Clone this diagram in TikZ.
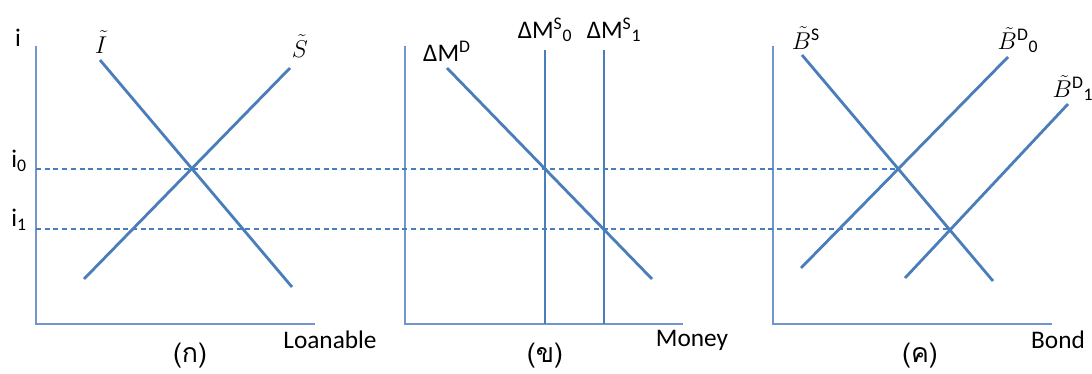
\documentclass[tikz,border=0pt]{standalone}
\usepackage{fontspec}
\setmainfont{Carlito}
\newfontfamily\thaifont[Script=Thai]{Loma}
\definecolor{curveblue}{HTML}{4A7EBB}
\definecolor{axisblue}{HTML}{7096CE}
\begin{document}
\begin{tikzpicture}[x=0.025cm,y=-0.025cm,
  curve/.style={curveblue,line width=2pt},
  axis/.style={axisblue,line width=1.3pt},
  guide/.style={curveblue,line width=0.9pt,dash pattern=on 3.6pt off 2.6pt},
  lbl/.style={font=\fontsize{18}{20}\selectfont,inner sep=0pt},
  captxt/.style={font=\fontsize{19}{21}\selectfont\thaifont,inner sep=0pt}]
\useasboundingbox (0,0) rectangle (1092,374);

% panel (a)
\coordinate (ytopa) at (36,46);
\coordinate (origa) at (36,324);
\coordinate (xenda) at (315,324);
\coordinate (itop) at (100,60);
\coordinate (ibot) at (292,287);
\coordinate (sbot) at (84,279);
\coordinate (stop) at (290,68);
\draw[axis] (ytopa) -- (origa) -- (xenda);
\draw[curve] (itop) -- (ibot);
\draw[curve] (sbot) -- (stop);

% panel (b)
\coordinate (ytopb) at (405,46);
\coordinate (origb) at (405,324);
\coordinate (xendb) at (683,324);
\coordinate (mdtop) at (447,68);
\coordinate (mdbot) at (652,279);
\coordinate (ms0top) at (545,50);
\coordinate (ms0bot) at (545,324);
\coordinate (ms1top) at (604,50);
\coordinate (ms1bot) at (604,324);
\draw[axis] (ytopb) -- (origb) -- (xendb);
\draw[curve] (mdtop) -- (mdbot);
\draw[curve] (ms0top) -- (ms0bot);
\draw[curve] (ms1top) -- (ms1bot);

% panel (c)
\coordinate (ytopc) at (773,46);
\coordinate (origc) at (773,324);
\coordinate (xendc) at (1052,324);
\coordinate (bstop) at (802,55);
\coordinate (bsbot) at (993,281);
\coordinate (bd0bot) at (801,268);
\coordinate (bd0top) at (1008,57);
\coordinate (bd1bot) at (905,278);
\coordinate (bd1top) at (1068,104);
\draw[axis] (ytopc) -- (origc) -- (xendc);
\draw[curve] (bstop) -- (bsbot);
\draw[curve] (bd0bot) -- (bd0top);
\draw[curve] (bd1bot) -- (bd1top);

% rate levels
\coordinate (izero) at (36,169);
\coordinate (ione) at (36,229);
\coordinate (eqzero) at (899,169);
\coordinate (eqone) at (949,229);
\draw[guide] (izero) -- (eqzero);
\draw[guide] (ione) -- (eqone);

% labels
\node[lbl] (ilab) at (18,38) {i};
\node[lbl] (i0lab) at (19,161) {i\textsubscript{0}};
\node[lbl] (i1lab) at (19,220) {i\textsubscript{1}};
\node[lbl] (Ilab) at (101,42) {$\tilde{I}$};
\node[lbl] (Slab) at (300,46) {$\tilde{S}$};
\node[lbl] (mdlab) at (447,51) {ΔM\textsuperscript{D}};
\node[lbl] (ms0lab) at (545,30) {ΔM\textsuperscript{S}\textsubscript{0}};
\node[lbl] (ms1lab) at (614,30) {ΔM\textsuperscript{S}\textsubscript{1}};
\node[lbl] (bslab) at (806,38) {$\tilde{B}$\textsuperscript{S}};
\node[lbl] (bd0lab) at (1018,40) {$\tilde{B}$\textsuperscript{D}\textsubscript{0}};
\node[lbl] (bd1lab) at (1073,88) {$\tilde{B}$\textsuperscript{D}\textsubscript{1}};
\node[lbl] (xlaba) at (330,340) {Loanable};
\node[lbl] (xlabb) at (692,340) {Money};
\node[lbl] (xlabc) at (1058,340) {Bond};
\node[captxt] (capa) at (190,356) {(ก)};
\node[captxt] (capb) at (545,356) {(ข)};
\node[captxt] (capc) at (920,356) {(ค)};
\end{tikzpicture}
\end{document}
